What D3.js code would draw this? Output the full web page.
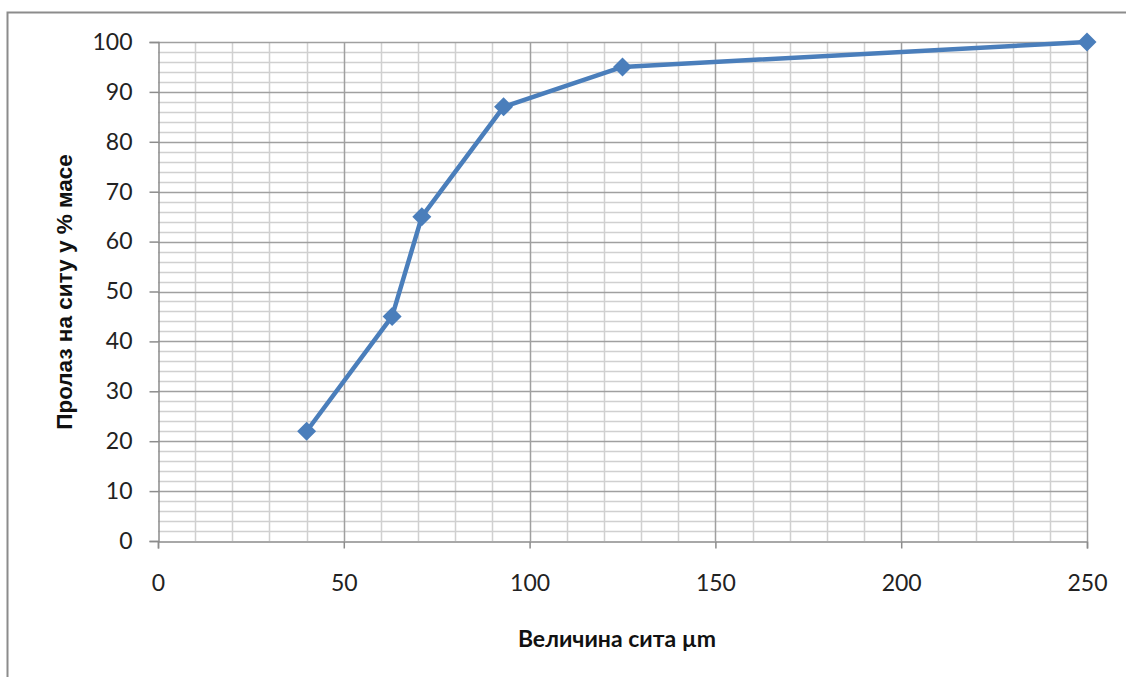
<!DOCTYPE html>
<html><head><meta charset="utf-8">
<script src="https://cdn.jsdelivr.net/npm/d3@7"></script>
<style>body{margin:0;background:#fff;} svg{display:block;}</style>
</head><body>
<svg id="c" width="1126" height="677"></svg>
<script>
const sieveSize = [40, 63, 71, 93, 125, 250];
const passing = [22, 45, 65, 87, 95, 100];
const xTicks = [0, 50, 100, 150, 200, 250];
const yTicks = [0, 10, 20, 30, 40, 50, 60, 70, 80, 90, 100];
const xTitle = "Величина сита µm";
const yTitle = "Пролаз на ситу у % масе";

const svg = d3.select("#c");
const font = "Lato, 'Open Sans', sans-serif";
const L = 158, R = 1087, T = 42, B = 541;
const x = d3.scaleLinear().domain([0, 250]).range([L, R]);
const y = d3.scaleLinear().domain([0, 100]).range([B, T]);

// outer border
svg.append("rect").attr("x", 7.5).attr("y", 12.5).attr("width", 1140).attr("height", 700)
  .attr("fill", "none").attr("stroke", "#8c8c8c").attr("stroke-width", 2);

const g = svg.append("g");
// minor grid
g.selectAll(".ymin").data(d3.range(0, 101, 2).filter(v => v % 10 !== 0)).join("line")
  .attr("x1", L).attr("x2", R).attr("y1", d => Math.round(y(d)) + 0.5).attr("y2", d => Math.round(y(d)) + 0.5)
  .attr("stroke", "#d0d0d0").attr("stroke-width", 1.5);
g.selectAll(".xmin").data(d3.range(0, 251, 10).filter(v => v % 50 !== 0)).join("line")
  .attr("y1", T).attr("y2", B).attr("x1", d => Math.round(x(d)) + 0.5).attr("x2", d => Math.round(x(d)) + 0.5)
  .attr("stroke", "#d0d0d0").attr("stroke-width", 1.5);
// major grid
g.selectAll(".ymaj").data(yTicks.filter(v => v > 0)).join("line")
  .attr("x1", L).attr("x2", R).attr("y1", d => Math.round(y(d)) + 0.5).attr("y2", d => Math.round(y(d)) + 0.5)
  .attr("stroke", "#a0a0a0").attr("stroke-width", 1.5);
g.selectAll(".xmaj").data(xTicks.filter(v => v > 0)).join("line")
  .attr("y1", T).attr("y2", B).attr("x1", d => Math.round(x(d)) + 0.5).attr("x2", d => Math.round(x(d)) + 0.5)
  .attr("stroke", "#a0a0a0").attr("stroke-width", 1.5);

// axes
const yAxis = svg.append("g").attr("transform", `translate(${L + 0.5},0)`)
  .call(d3.axisLeft(y).tickValues(yTicks).tickSize(9).tickPadding(17));
const xAxis = svg.append("g").attr("transform", `translate(0,${B + 0.5})`)
  .call(d3.axisBottom(x).tickValues(xTicks).tickSize(7).tickPadding(26));
[yAxis, xAxis].forEach(a => {
  a.select(".domain").attr("stroke", "#8c8c8c").attr("stroke-width", 1.5);
  a.selectAll(".tick line").attr("stroke", "#8c8c8c").attr("stroke-width", 1.5);
  a.selectAll("text").attr("font-family", font).attr("font-size", 23).attr("fill", "#222");
});

// line
const line = d3.line().x((d, i) => x(sieveSize[i])).y(d => y(d));
svg.append("path").datum(passing).attr("d", line)
  .attr("fill", "none").attr("stroke", "#4a7ebb").attr("stroke-width", 4.5).attr("stroke-linejoin", "round");
svg.selectAll(".pt").data(passing).join("path")
  .attr("transform", (d, i) => `translate(${x(sieveSize[i])},${y(d)})`)
  .attr("d", "M0,-9.5L9.5,0L0,9.5L-9.5,0Z").attr("fill", "#4a7ebb");

// titles
svg.append("text").attr("x", 617).attr("y", 647).attr("text-anchor", "middle")
  .attr("font-family", font).attr("font-weight", "bold").attr("font-size", 23).attr("fill", "#111").text(xTitle);
svg.append("text").attr("transform", "translate(72,292) rotate(-90)").attr("text-anchor", "middle")
  .attr("font-family", "'Liberation Sans', Arial, sans-serif").attr("font-weight", "bold").attr("font-size", 22.5).attr("fill", "#111").text(yTitle);
</script>
</body></html>
